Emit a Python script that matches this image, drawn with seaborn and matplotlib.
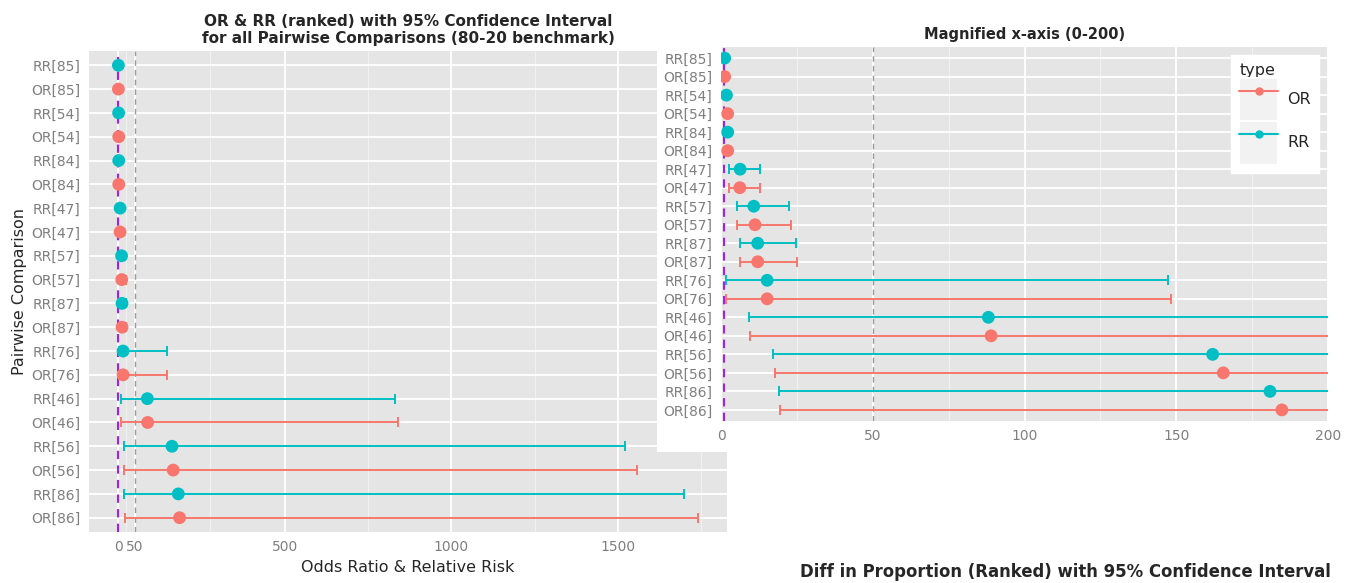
import numpy as np
import pandas as pd
import matplotlib
matplotlib.use("Agg")
import matplotlib.pyplot as plt
import seaborn as sns
from matplotlib.patches import Rectangle
from matplotlib.lines import Line2D
from matplotlib.legend_handler import HandlerTuple

# ---------------- data ----------------
pairs = ["85", "54", "84", "47", "57", "87", "76", "46", "56", "86"]
rr_est = [1.2, 1.8, 2.2, 6.3, 10.8, 12.1, 15.2, 88.1, 162.0, 180.9]
rr_lo = [0.9, 1.4, 1.6, 2.7, 5.2, 6.2, 1.8, 9.1, 17.2, 19.1]
rr_hi = [1.5, 2.3, 3.0, 12.7, 22.4, 24.7, 147.4, 830.0, 1522.0, 1699.0]
or_est = [1.2, 2.2, 2.2, 6.2, 11.2, 12.1, 15.2, 89.0, 165.5, 184.8]
or_lo = [0.8, 1.6, 1.6, 2.7, 5.2, 6.3, 1.8, 9.7, 17.7, 19.6]
or_hi = [1.7, 3.0, 3.0, 12.8, 23.0, 25.2, 148.2, 841.0, 1556.0, 1740.0]

left_xticks = [0, 50, 500, 1000, 1500]
left_minor = [25, 275, 750, 1250, 1750]
right_xticks = [0, 50, 100, 150, 200]
right_minor = [25, 75, 125, 175]

rows = []
for i, p in enumerate(pairs):
    rows.append((f"RR[{p}]", "RR", rr_est[i], rr_lo[i], rr_hi[i]))
    rows.append((f"OR[{p}]", "OR", or_est[i], or_lo[i], or_hi[i]))
df = pd.DataFrame(rows, columns=["label", "type", "est", "lo", "hi"])
df["pos"] = np.arange(len(df))

palette = {"OR": "#F8766D", "RR": "#00BFC4"}
GREY50 = "#7F7F7F"

sns.set_style("darkgrid")
plt.rcParams["font.family"] = ["DejaVu Sans"]

W, H = 1351, 583
fig = plt.figure(figsize=(W / 100, H / 100), dpi=100, facecolor="white")


def fbox(x0, y0, x1, y1):
    return [x0 / W, 1 - y1 / H, (x1 - x0) / W, (y1 - y0) / H]


def draw(ax, xlim, xticks, minor, capsize):
    ax.set_facecolor("#E5E5E5")
    ax.set_axisbelow(True)
    ax.set_xticks(xticks)
    ax.set_xticks(minor, minor=True)
    ax.set_yticks(df["pos"], df["label"])
    ax.grid(True, which="major", color="white", lw=1.3)
    ax.grid(True, which="minor", axis="x", color="#F2F2F2", lw=0.7)
    ax.axvline(50, color="#9A9A9A", ls=(0, (4, 3)), lw=1.0, zorder=1.5)
    ax.axvline(1, color="#A020F0", ls=(0, (4, 3)), lw=1.5, zorder=1.6)
    for t in ["RR", "OR"]:
        sub = df[df["type"] == t]
        ax.errorbar(sub["est"], sub["pos"],
                    xerr=[sub["est"] - sub["lo"], sub["hi"] - sub["est"]],
                    fmt="none", ecolor=palette[t], elinewidth=1.4,
                    capsize=capsize, capthick=1.4, zorder=2)
    sns.scatterplot(data=df, x="est", y="pos", hue="type", palette=palette,
                    s=85, edgecolor="none", legend=False, ax=ax, zorder=3)
    ax.set_xlim(*xlim)
    ax.set_ylim(len(df) - 0.4, -0.6)
    for s in ax.spines.values():
        s.set_visible(False)
    ax.tick_params(axis="both", which="major", length=4, color=GREY50,
                   labelcolor=GREY50, labelsize=10, pad=2, width=1)
    ax.tick_params(axis="both", which="minor", length=0)
    ax.set_xlabel("")
    ax.set_ylabel("")


# ---------------- left (main) panel ----------------
ax1 = fig.add_axes(fbox(89, 51, 727, 532), zorder=0)
draw(ax1, (-87, 1827), left_xticks, left_minor, 3.5)
ax1.set_title("OR & RR (ranked) with 95% Confidence Interval\n"
              "for all Pairwise Comparisons (80-20 benchmark)",
              fontweight="bold", fontsize=11, pad=6, linespacing=1.1)
ax1.set_xlabel("Odds Ratio & Relative Risk", fontsize=11.5, labelpad=4)
ax1.set_ylabel("Pairwise Comparison", fontsize=11.5, labelpad=3)

# ---------------- inset background ----------------
fig.add_artist(Rectangle((657 / W, 1 - 452 / H), (W - 657) / W, (452 - 22) / H,
                         transform=fig.transFigure, facecolor="white",
                         edgecolor="none", zorder=1))

# ---------------- right (magnified) panel ----------------
ax2 = fig.add_axes(fbox(721, 47, 1328, 421), zorder=2)
draw(ax2, (0, 200), right_xticks, right_minor, 3.5)
ax2.set_title("Magnified x-axis (0-200)", fontweight="bold", fontsize=10.5, pad=6)

handles = []
for t in ["OR", "RR"]:
    handles.append((Rectangle((0, 0), 1, 1, facecolor="#F2F2F2", edgecolor="white", lw=1.5),
                    Line2D([], [], color=palette[t], marker="o", markersize=5, lw=1.5)))
leg = ax2.legend(handles, ["OR", "RR"], title="type",
                 handler_map={tuple: HandlerTuple(ndivide=1, pad=0)},
                 loc="upper right", bbox_to_anchor=(1319 / W, 1 - 55 / H),
                 bbox_transform=fig.transFigure, frameon=True, fancybox=False,
                 facecolor="white", edgecolor="white", framealpha=1,
                 fontsize=11.5, title_fontsize=11.5, handlelength=2.4,
                 handleheight=3.8, labelspacing=0.0, handletextpad=0.6,
                 borderpad=0.5, borderaxespad=0, alignment="left")

fig.text(800 / W, 1 - 572 / H, "Diff in Proportion (Ranked) with 95% Confidence Interval",
         fontweight="bold", fontsize=11.9, ha="left", va="center")

fig.savefig("out.png", dpi=100, facecolor="white")
